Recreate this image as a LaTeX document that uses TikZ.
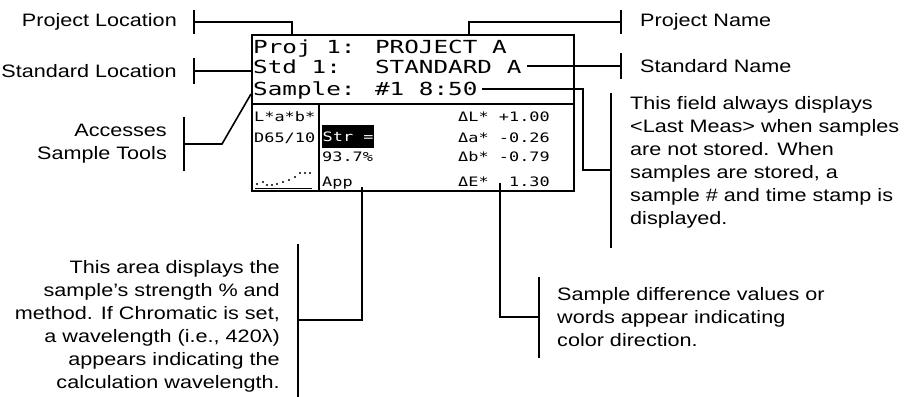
\documentclass[tikz,border=0pt]{standalone}
\usepackage{fontspec}
\setmainfont{Liberation Sans}[FakeStretch=1.2]
\newfontfamily\lcdfont{DejaVu Sans Mono}[FakeStretch=1.35]
\newfontfamily\lcdsmallfont{DejaVu Sans Mono}[FakeStretch=1.3]
\usepackage{tikz}
\usetikzlibrary{arrows.meta,positioning,calc}
\tikzset{
    note/.style={
        inner sep=0pt,
        font=\fontsize{18}{23}\selectfont
    },
    noteRight/.style={note, anchor=west, align=left},
    noteLeft/.style={note, anchor=east, align=right},
    lcdFrame/.style={draw, line width=2pt, inner sep=0pt},
    lcdLine/.style={line width=2pt},
    lcdBig/.style={inner sep=0pt, anchor=base west, font=\lcdfont\fontsize{18}{18}\selectfont},
    lcdSmall/.style={inner sep=0pt, anchor=base west, font=\lcdsmallfont\fontsize{13}{13}\selectfont},
    callout/.style={line width=1.6pt}
}

\begin{document}
\begin{tikzpicture}[x=1pt, y=-1pt]
    \useasboundingbox (0,0) rectangle (904,396);

    % display
    \node[lcdFrame, anchor=north west, minimum width=322pt, minimum height=156pt] (lcd) at (251,34) {};
    \draw[lcdLine] (251,104) -- (573,104);
    \draw[lcdLine] (319,104) -- (319,190);

    \node[lcdBig] (proj) at (253,53) {Proj 1: PROJECT A};
    \node[lcdBig] (std) at (253,74) {Std 1:~ STANDARD A};
    \node[lcdBig] (smp) at (253,95) {Sample: \#1 8:50};

    \node[lcdSmall] (space) at (254,121) {L*a*b*};
    \node[lcdSmall] (illum) at (254,142) {D65/10};
    \node[lcdSmall, anchor=west, fill=black, text=white, inner xsep=0.5pt, minimum height=23pt] (str) at (322,136.5) {Str =};
    \node[lcdSmall] (pct) at (322,161) {93.7\%};
    \node[lcdSmall] (app) at (322,186) {App};
    \node[lcdSmall, anchor=base east] (dl) at (550,121) {ΔL* +1.00};
    \node[lcdSmall, anchor=base east] (da) at (550,142) {Δa* -0.26};
    \node[lcdSmall, anchor=base east] (db) at (550,161) {Δb* -0.79};
    \node[lcdSmall, anchor=base east] (de) at (550,186) {ΔE*~ 1.30};

    % small trend graph
    \foreach \px/\py in {257/184,263/182,267/185,272/185,277/184,283/182,289/180,295/177,300/173,305/173,310/173}
        \fill (\px,\py) circle (1.2pt);
    \draw[line width=1pt] (255,188) -- (312,188);

    % points on the display
    \coordinate (projTop) at (292,34);
    \coordinate (stdLeft) at (251,71);
    \coordinate (smpLeft) at (251,94);
    \coordinate (nameTop) at (469,34);
    \coordinate (stdEnd) at (527,66);
    \coordinate (timeEnd) at (482,89);
    \coordinate (timeKnee) at (583,89);
    \coordinate (appEnd) at (362,187);
    \coordinate (deEnd) at (500,183);

    % labels
    \node[noteLeft] (locProj) at (177,22) {Project Location};
    \node[noteLeft] (locStd) at (177,71) {Standard Location};
    \node[noteLeft] (tools) at (167,144) {Accesses\\Sample Tools};
    \node[noteRight] (pname) at (640,22) {Project Name};
    \node[noteRight] (sname) at (640,66) {Standard Name};
    \node[noteRight] (field) at (630,162) {This field always displays\\<Last Meas> when samples\\are not stored. When\\samples are stored, a\\sample \# and time stamp is\\displayed.};
    \node[noteRight] (diff) at (557,317) {Sample difference values or\\words appear indicating\\color direction.};
    \node[noteLeft] (area) at (280,326) {This area displays the\\sample's strength \% and\\method. If Chromatic is set,\\a wavelength (i.e., 420λ)\\appears indicating the\\calculation wavelength.};

    \draw[callout, {Bar[width=24pt]}-] ([xshift=16pt]locProj.east) -| (projTop);
    \draw[callout, {Bar[width=26pt]}-] ([xshift=16pt]locStd.east) -- (stdLeft);
    \draw[callout, {Bar[width=54pt]}-] ([xshift=16pt]tools.east) -- ([xshift=55pt]tools.east) -- (smpLeft);
    \draw[callout, {Bar[width=24pt]}-] ([xshift=-18pt]pname.west) -| (nameTop);
    \draw[callout, {Bar[width=25pt]}-] ([xshift=-18pt]sname.west) -- (stdEnd);
    \draw[callout, {Bar[width=155pt]}-] ([xshift=-18pt,yshift=-8pt]field.west) -| (timeKnee) -- (timeEnd);
    \draw[callout, {Bar[width=81pt]}-] ([xshift=-17pt]diff.west) -| (deEnd);
    \draw[callout, {Bar[width=153pt]}-] ([xshift=17pt,yshift=6pt]area.east) -| (appEnd);
\end{tikzpicture}
\end{document}
